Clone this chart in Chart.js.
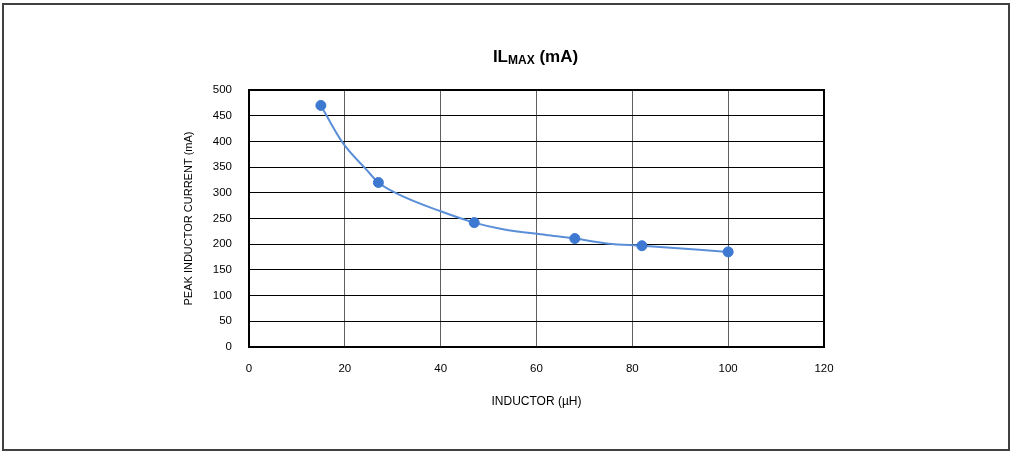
<!DOCTYPE html>
<html lang="en">
<head>
    <meta charset="UTF-8">
    <title>ILMAX (mA)</title>
    <script src="https://cdn.jsdelivr.net/npm/chart.js"></script>
    <style>
        body { margin: 0; background: #fff; }
        #wrap { position: relative; width: 1014px; height: 454px; }
        #title {
            position: absolute; left: 0; width: 1071px; top: 47px;
            text-align: center; color: #000;
            font: bold 17px "Liberation Sans", Arial, sans-serif;
        }
        #title span { font-size: 12px; position: relative; top: 2px; }
    </style>
</head>
<body>
    <div id="wrap">
        <canvas id="chart"></canvas>
        <div id="title">IL<span>MAX</span> (mA)</div>
    </div>

    <script>
        // markers
        const inductor = [15, 27, 47, 68, 82, 100];
        const peakCurrent = [470, 320, 242, 211, 197, 185];

        // the smoothed trace (it bends a little between markers)
        const curveX = [15, 19.5, 24.5, 27, 31, 40, 47, 53, 62, 68, 75, 82, 100];
        const curveY = [470, 398, 345, 320, 298, 264, 242, 229, 218, 211, 201, 197, 185];

        const xTicks = [0, 20, 40, 60, 80, 100, 120];
        const yTicks = [0, 50, 100, 150, 200, 250, 300, 350, 400, 450, 500];

        const sans = '"Liberation Sans", Arial, sans-serif';

        const frames = {
            id: 'frames',
            afterDraw(chart) {
                const ctx = chart.ctx;
                const a = chart.chartArea;
                ctx.save();
                ctx.strokeStyle = '#000';
                ctx.lineWidth = 2;
                ctx.strokeRect(a.left, a.top, a.right - a.left, a.bottom - a.top);
                ctx.strokeStyle = '#404040';
                ctx.strokeRect(3, 4, 1006, 446);
                ctx.restore();
            }
        };

        new Chart(document.getElementById('chart'), {
            type: 'scatter',
            data: {
                datasets: [{
                    data: curveX.map((x, i) => ({ x: x, y: curveY[i] })),
                    showLine: true,
                    borderColor: '#5a8fd8',
                    borderWidth: 2,
                    pointRadius: 0,
                    cubicInterpolationMode: 'monotone',
                    order: 2
                }, {
                    data: inductor.map((x, i) => ({ x: x, y: peakCurrent[i] })),
                    showLine: false,
                    pointRadius: 5,
                    pointBackgroundColor: '#3d79d0',
                    pointBorderColor: '#3d79d0',
                    order: 1
                }]
            },
            options: {
                responsive: true,
                maintainAspectRatio: false,
                animation: false,
                layout: { padding: { left: 0, right: 190, top: 90, bottom: 0 } },
                plugins: { legend: { display: false }, tooltip: { enabled: false } },
                scales: {
                    x: {
                        type: 'linear',
                        min: 0, max: 120,
                        afterFit: s => { s.height = 107; },
                        afterBuildTicks: s => { s.ticks = xTicks.map(v => ({ value: v })); },
                        grid: { color: '#606060', lineWidth: 1, drawTicks: false },
                        border: { display: false },
                        ticks: { padding: 15, color: '#000', font: { family: sans, size: 11.5 } },
                        title: {
                            display: true, text: 'INDUCTOR (µH)', color: '#000',
                            font: { family: sans, size: 12 },
                            padding: { top: 0, bottom: 45 }
                        }
                    },
                    y: {
                        min: 0, max: 500,
                        afterFit: s => { s.width = 249; },
                        afterBuildTicks: s => { s.ticks = yTicks.map(v => ({ value: v })); },
                        grid: { color: '#000', lineWidth: 1, drawTicks: false },
                        border: { display: false },
                        ticks: { padding: 17, color: '#000', font: { family: sans, size: 11.5 } },
                        title: {
                            display: true, text: 'PEAK INDUCTOR CURRENT (mA)', color: '#000',
                            font: { family: sans, size: 11 },
                            padding: { top: 182, bottom: 0 }
                        }
                    }
                }
            },
            plugins: [frames]
        });
    </script>
</body>
</html>
